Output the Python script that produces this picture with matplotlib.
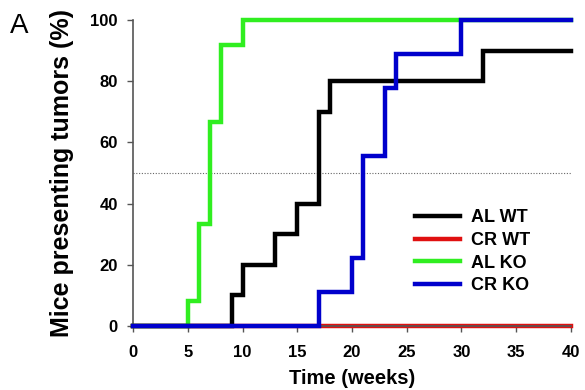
import matplotlib
matplotlib.use('Agg')
import matplotlib.pyplot as plt

plt.rcParams['font.family'] = ['Liberation Sans', 'DejaVu Sans']

# step data: week of each event and cumulative % of mice with tumors
al_wt_weeks = [0, 9, 10, 13, 15, 17, 18, 32, 40]
al_wt_pct = [0, 10, 20, 30, 40, 70, 80, 90, 90]

cr_wt_weeks = [0, 40]
cr_wt_pct = [0, 0]

al_ko_weeks = [0, 5, 6, 7, 8, 10, 40]
al_ko_pct = [0, 8.3, 33.3, 66.7, 91.7, 100, 100]

cr_ko_weeks = [0, 17, 20, 21, 23, 24, 30, 40]
cr_ko_pct = [0, 11.1, 22.2, 55.6, 77.8, 88.9, 100, 100]

x_ticks = [0, 5, 10, 15, 20, 25, 30, 35, 40]
y_ticks = [0, 20, 40, 60, 80, 100]

fig = plt.figure(figsize=(5.85, 3.9), dpi=100)
ax = fig.add_axes([0.2274, 0.164, 0.7486, 0.7847])

style = dict(where='post', lw=3.2, clip_on=False, solid_joinstyle='miter')
ax.axhline(50, color='#666666', lw=0.8, ls=(0, (1, 1.5)), zorder=1)
ax.step(cr_wt_weeks, cr_wt_pct, color='#e01010', label='CR WT', zorder=2, **style)
ax.step(al_ko_weeks, al_ko_pct, color='#30ee20', label='AL KO', zorder=3, **style)
ax.step(al_wt_weeks, al_wt_pct, color='black', label='AL WT', zorder=4, **style)
ax.step(cr_ko_weeks, cr_ko_pct, color='#0000cc', label='CR KO', zorder=5, **style)

ax.set_xlim(0, 40)
ax.set_ylim(0, 100)
ax.set_xticks(x_ticks)
ax.set_yticks(y_ticks)
for lab in ax.get_xticklabels() + ax.get_yticklabels():
    lab.set_fontweight('bold')
ax.tick_params(labelsize=12, length=4, width=1, color='#555555')
ax.tick_params(axis='x', pad=10)
ax.tick_params(axis='y', pad=7)

for s in ['top', 'right']:
    ax.spines[s].set_visible(False)
for s in ['left', 'bottom']:
    ax.spines[s].set_color('#555555')
    ax.spines[s].set_linewidth(1.2)

ax.set_xlabel('Time (weeks)', fontsize=14.5, fontweight='bold', labelpad=6)
ax.set_ylabel('Mice presenting tumors (%)', fontsize=18, fontweight='bold', labelpad=12)

handles, labels = ax.get_legend_handles_labels()
order = [labels.index(n) for n in ['AL WT', 'CR WT', 'AL KO', 'CR KO']]
ax.legend([handles[i] for i in order], [labels[i] for i in order],
          loc='upper left', bbox_to_anchor=(0.607, 0.435), frameon=False,
          prop={'weight': 'bold', 'size': 13}, handlelength=2.5,
          handletextpad=0.6, labelspacing=0.32)

fig.text(0.017, 0.915, 'A', fontsize=20, va='baseline')

fig.savefig('out.png', dpi=100)
